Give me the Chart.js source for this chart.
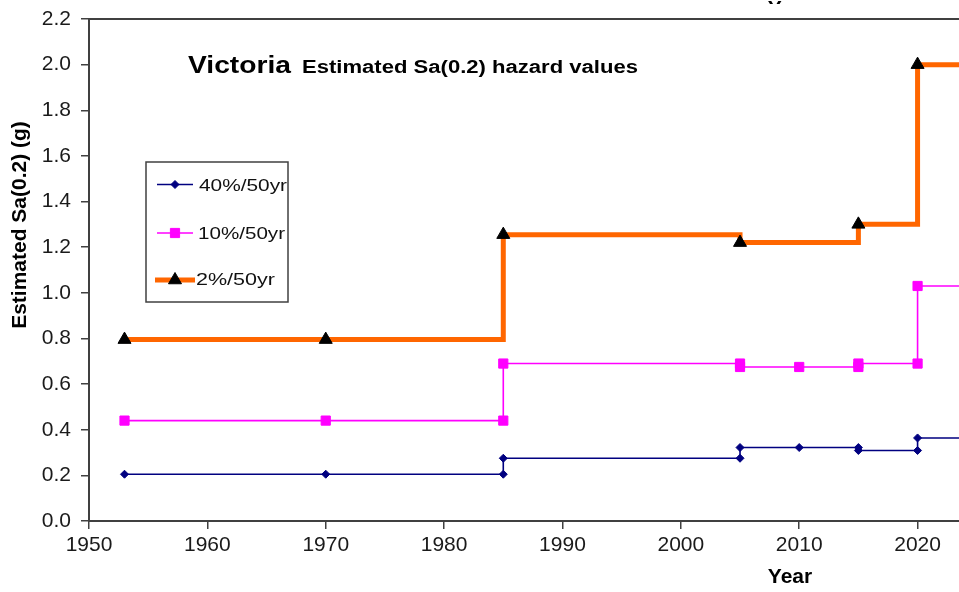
<!DOCTYPE html>
<html>
<head>
<meta charset="utf-8">
<script src="https://cdn.jsdelivr.net/npm/chart.js@4.4.1/dist/chart.umd.min.js"></script>
<style>
  html, body { margin: 0; padding: 0; background: #ffffff; }
  #wrap { position: relative; width: 959px; height: 592px; }
</style>
</head>
<body>
<div id="wrap"><canvas id="c" width="959" height="592"></canvas></div>
<script>
// ---- data ----
const xTicks = [1950, 1960, 1970, 1980, 1990, 2000, 2010, 2020];
const yTicks = [0, 0.2, 0.4, 0.6, 0.8, 1.0, 1.2, 1.4, 1.6, 1.8, 2.0, 2.2];

const seriesLabels = ['40%/50yr', '10%/50yr', '2%/50yr'];

const years40 = [1953, 1970, 1985, 1985, 2005, 2005, 2010, 2015, 2015, 2020, 2020, 2025];
const sa40    = [0.205, 0.205, 0.205, 0.275, 0.275, 0.322, 0.322, 0.322, 0.309, 0.309, 0.364, 0.364];

const years10 = [1953, 1970, 1985, 1985, 2005, 2005, 2010, 2015, 2015, 2020, 2020, 2025];
const sa10    = [0.44, 0.44, 0.44, 0.69, 0.69, 0.675, 0.675, 0.675, 0.69, 0.69, 1.03, 1.03];

const years2  = [1953, 1970, 1985, 2005, 2015, 2020, 2025];
const sa2     = [0.795, 0.795, 1.255, 1.22, 1.30, 2.0, 2.0];

const titleMain = 'Victoria';
const titleSub = 'Estimated Sa(0.2) hazard values';
const yTitle = 'Estimated Sa(0.2) (g)';
const xTitle = 'Year';

function pts(xs, ys) { return xs.map((x, i) => ({ x: x, y: ys[i] })); }

const AXIS = '#404040';
const FONT = '"Liberation Sans", Arial, sans-serif';

function fitText(ctx, text, x, y, font, w) {
  ctx.save();
  ctx.font = font;
  const m = ctx.measureText(text).width;
  const s = w ? w / m : 1;
  ctx.translate(x, y);
  ctx.scale(s, 1);
  ctx.textAlign = 'left';
  ctx.textBaseline = 'alphabetic';
  ctx.fillText(text, 0, 0);
  ctx.restore();
}

function marker(ctx, ds, x, y) {
  const opts = {
    pointStyle: ds.pointStyle,
    radius: ds.pointRadius,
    borderWidth: ds.pointBorderWidth,
    rotation: 0
  };
  ctx.save();
  ctx.fillStyle = ds.pointBackgroundColor;
  ctx.strokeStyle = ds.pointBorderColor;
  ctx.lineWidth = ds.pointBorderWidth;
  if (Chart.helpers && Chart.helpers.drawPoint) {
    Chart.helpers.drawPoint(ctx, opts, x, y);
  }
  ctx.restore();
}

const decor = {
  id: 'decor',
  afterDraw(chart) {
    const ctx = chart.ctx;
    const a = chart.chartArea;
    // top border of plot area
    ctx.save();
    ctx.strokeStyle = AXIS;
    ctx.lineWidth = 2;
    ctx.beginPath();
    ctx.moveTo(a.left - 1, a.top);
    ctx.lineTo(a.right, a.top);
    ctx.stroke();
    ctx.restore();

    ctx.save();
    ctx.fillStyle = '#000';
    // chart title inside plot
    fitText(ctx, titleMain, 188, 73, 'bold 24px ' + FONT, 103);
    fitText(ctx, titleSub, 302, 73, 'bold 18px ' + FONT, 336);

    // axis titles
    ctx.font = 'bold 21px ' + FONT;
    ctx.textAlign = 'center';
    ctx.textBaseline = 'alphabetic';
    ctx.fillText(xTitle, 790, 583);
    ctx.save();
    ctx.translate(26, 225);
    ctx.rotate(-Math.PI / 2);
    ctx.fillText(yTitle, 0, 0);
    ctx.restore();

    // clipped remnant at the very top
    ctx.save();
    ctx.beginPath();
    ctx.rect(740, 0, 100, 4);
    ctx.clip();
    ctx.fillText(xTitle, 790, 15);
    ctx.restore();
    ctx.restore();

    // legend box
    const lx = 146, ly = 162, lw = 142, lh = 140;
    ctx.save();
    ctx.fillStyle = '#fff';
    ctx.fillRect(lx, ly, lw, lh);
    ctx.strokeStyle = AXIS;
    ctx.lineWidth = 1.5;
    ctx.strokeRect(lx, ly, lw, lh);
    const rows = [
      { y: 184.5, x0: 157, x1: 193, tx: 199, tw: 88, tb: 191 },
      { y: 233, x0: 157, x1: 193, tx: 198, tw: 87, tb: 238.5 },
      { y: 280, x0: 155, x1: 195, tx: 196, tw: 79, tb: 285 }
    ];
    chart.data.datasets.forEach((ds, i) => {
      const r = rows[i];
      ctx.save();
      ctx.strokeStyle = ds.borderColor;
      ctx.lineWidth = ds.borderWidth;
      ctx.lineCap = 'butt';
      ctx.beginPath();
      ctx.moveTo(r.x0, r.y);
      ctx.lineTo(r.x1, r.y);
      ctx.stroke();
      ctx.restore();
      marker(ctx, ds, (r.x0 + r.x1) / 2, r.y);
      ctx.fillStyle = '#111';
      fitText(ctx, ds.label, r.tx, r.tb, '17px ' + FONT, r.tw);
    });
    ctx.restore();
  }
};

const common = {
  stepped: true,
  fill: false,
  borderJoinStyle: 'miter',
  borderCapStyle: 'butt',
  tension: 0
};

new Chart(document.getElementById('c'), {
  type: 'line',
  data: {
    datasets: [
      Object.assign({}, common, {
        label: seriesLabels[0],
        data: pts(years40, sa40),
        borderColor: '#000080',
        borderWidth: 1.6,
        pointStyle: 'rectRot',
        pointRadius: 4,
        pointBorderWidth: 1,
        pointBackgroundColor: '#000080',
        pointBorderColor: '#000080'
      }),
      Object.assign({}, common, {
        label: seriesLabels[1],
        data: pts(years10, sa10),
        borderColor: '#FF00FF',
        borderWidth: 1.6,
        pointStyle: 'rect',
        pointRadius: 6.5,
        pointBorderWidth: 1,
        pointBackgroundColor: '#FF00FF',
        pointBorderColor: '#FF00FF'
      }),
      Object.assign({}, common, {
        label: seriesLabels[2],
        data: pts(years2, sa2),
        borderColor: '#FF6600',
        borderWidth: 5,
        pointStyle: 'triangle',
        pointRadius: 7.5,
        pointBorderWidth: 1,
        pointBackgroundColor: '#000000',
        pointBorderColor: '#000000'
      })
    ]
  },
  options: {
    responsive: false,
    animation: false,
    events: [],
    layout: { autoPadding: false, padding: { top: 19, left: 0, right: 0, bottom: 0 } },
    plugins: {
      legend: { display: false },
      title: { display: false },
      tooltip: { enabled: false }
    },
    scales: {
      x: {
        type: 'linear',
        min: 1950,
        max: 2023.5,
        afterBuildTicks(scale) { scale.ticks = xTicks.map(v => ({ value: v })); },
        afterFit(scale) { scale.height = 71; scale.paddingLeft = 0; scale.paddingRight = 0; },
        grid: {
          drawOnChartArea: false,
          drawTicks: true,
          tickLength: 8,
          color: AXIS,
          lineWidth: 1.5
        },
        border: { display: true, color: AXIS, width: 2 },
        ticks: {
          color: '#1a1a1a',
          font: { family: FONT, size: 21 },
          padding: 4,
          maxRotation: 0,
          autoSkip: false,
          callback: v => String(v)
        }
      },
      y: {
        type: 'linear',
        min: 0,
        max: 2.2,
        afterBuildTicks(scale) { scale.ticks = yTicks.map(v => ({ value: v })); },
        afterFit(scale) { scale.width = 89; scale.paddingTop = 0; scale.paddingBottom = 0; },
        grid: {
          drawOnChartArea: false,
          drawTicks: true,
          tickLength: 8,
          color: AXIS,
          lineWidth: 1.5
        },
        border: { display: true, color: AXIS, width: 2 },
        ticks: {
          color: '#1a1a1a',
          font: { family: FONT, size: 21 },
          padding: 10,
          autoSkip: false,
          callback: v => Number(v).toFixed(1)
        }
      }
    }
  },
  plugins: [decor]
});
</script>
</body>
</html>
